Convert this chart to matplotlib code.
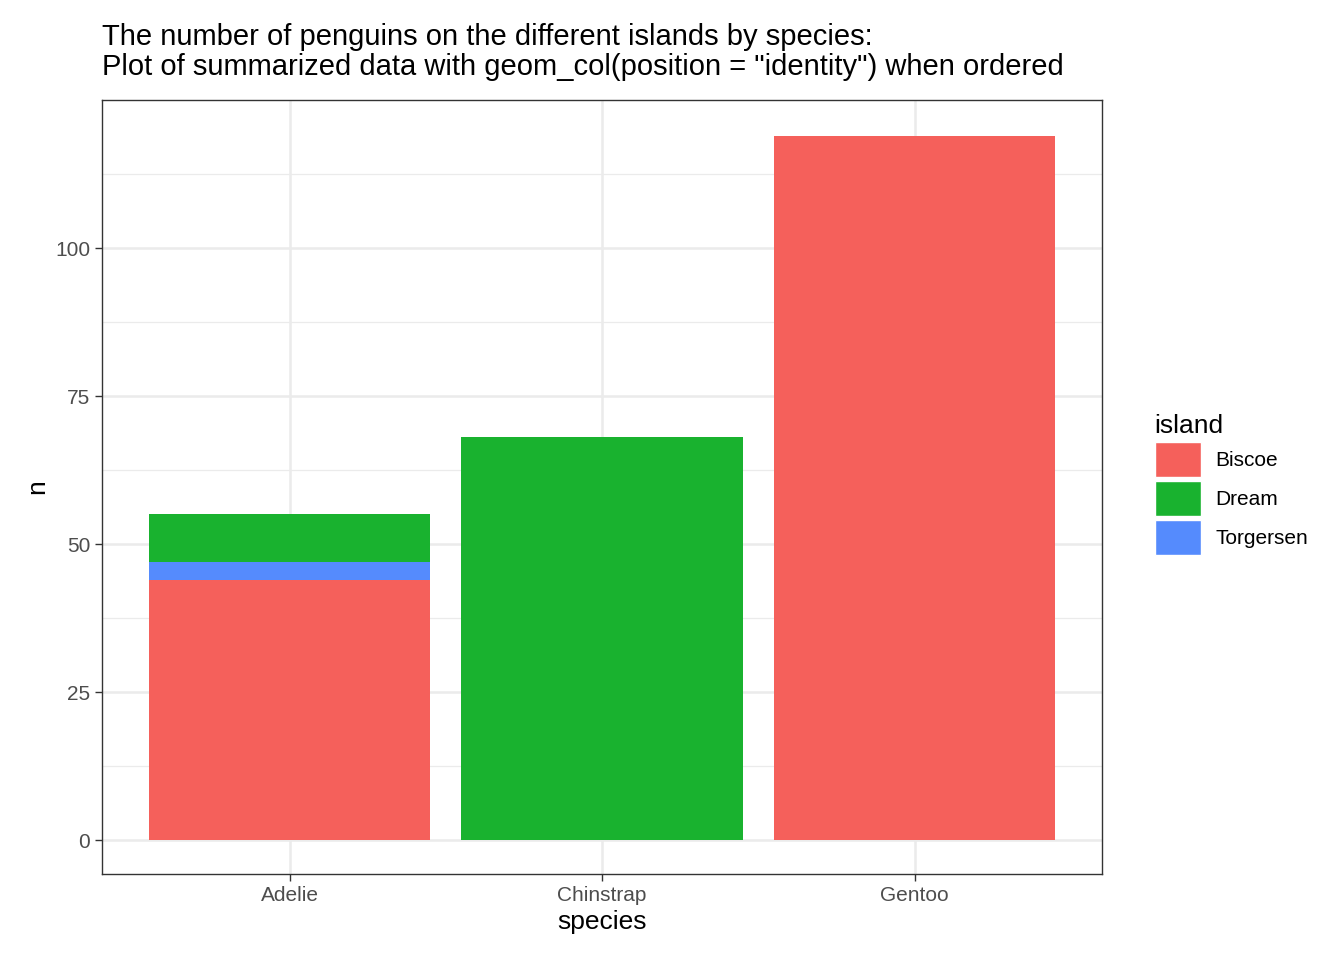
import matplotlib
matplotlib.use("Agg")
import matplotlib.pyplot as plt
from matplotlib.patches import Patch

plt.rcParams['font.family'] = ['Liberation Sans', 'DejaVu Sans']

species = ["Adelie", "Chinstrap", "Gentoo"]
# rows in drawing order (largest first, overlapping with position = identity)
bar_species = ["Adelie", "Adelie", "Adelie", "Chinstrap", "Gentoo"]
bar_island = ["Dream", "Torgersen", "Biscoe", "Dream", "Biscoe"]
bar_n = [55, 47, 44, 68, 119]
islands = ["Biscoe", "Dream", "Torgersen"]
colors = {"Biscoe": "#F8766D", "Dream": "#00BA38", "Torgersen": "#619CFF"}
colors = {"Biscoe": "#F5605B", "Dream": "#19B22F", "Torgersen": "#558BFD"}

fig = plt.figure(figsize=(13.44, 9.6), dpi=100)
ax = fig.add_axes([102/1344, 1-874/960, 1000/1344, 774/960])

for s, isl, n in zip(bar_species, bar_island, bar_n):
    ax.bar(species.index(s) + 1, n, width=0.9, color=colors[isl], zorder=3)

ax.set_xlim(0.4, 3.6)
ax.set_ylim(-5.74, 125)
ax.set_xticks([1, 2, 3])
ax.set_xticklabels(species)
ax.set_yticks([0, 25, 50, 75, 100])
ax.set_yticks([12.5, 37.5, 62.5, 87.5, 112.5], minor=True)
ax.grid(True, which='major', color='#EBEBEB', linewidth=1.8, zorder=0)
ax.grid(True, which='minor', axis='y', color='#EBEBEB', linewidth=0.9, zorder=0)
ax.tick_params(which='minor', length=0)
ax.tick_params(which='major', length=5, width=1, color='#333333', labelsize=15, labelcolor='#4D4D4D')
for sp in ax.spines.values():
    sp.set_color('#333333')
    sp.set_linewidth(1)
ax.set_xlabel("species", fontsize=19)
ax.set_ylabel("n", fontsize=19)
ax.set_title('The number of penguins on the different islands by species:\n'
             'Plot of summarized data with geom_col(position = "identity") when ordered',
             fontsize=21, loc='left', x=0.0, pad=18, linespacing=1.1)

handles = [Patch(facecolor=colors[i], edgecolor='white', label=i) for i in islands]
leg = fig.legend(handles=handles, title="island", loc='upper left',
                 bbox_to_anchor=(1136/1344, 1-395/960), frameon=False,
                 fontsize=15, title_fontsize=19, handlelength=2.2, handleheight=2.2,
                 labelspacing=0.2, handletextpad=0.7)
leg._legend_box.align = "left"

fig.savefig("out.png", dpi=100)
